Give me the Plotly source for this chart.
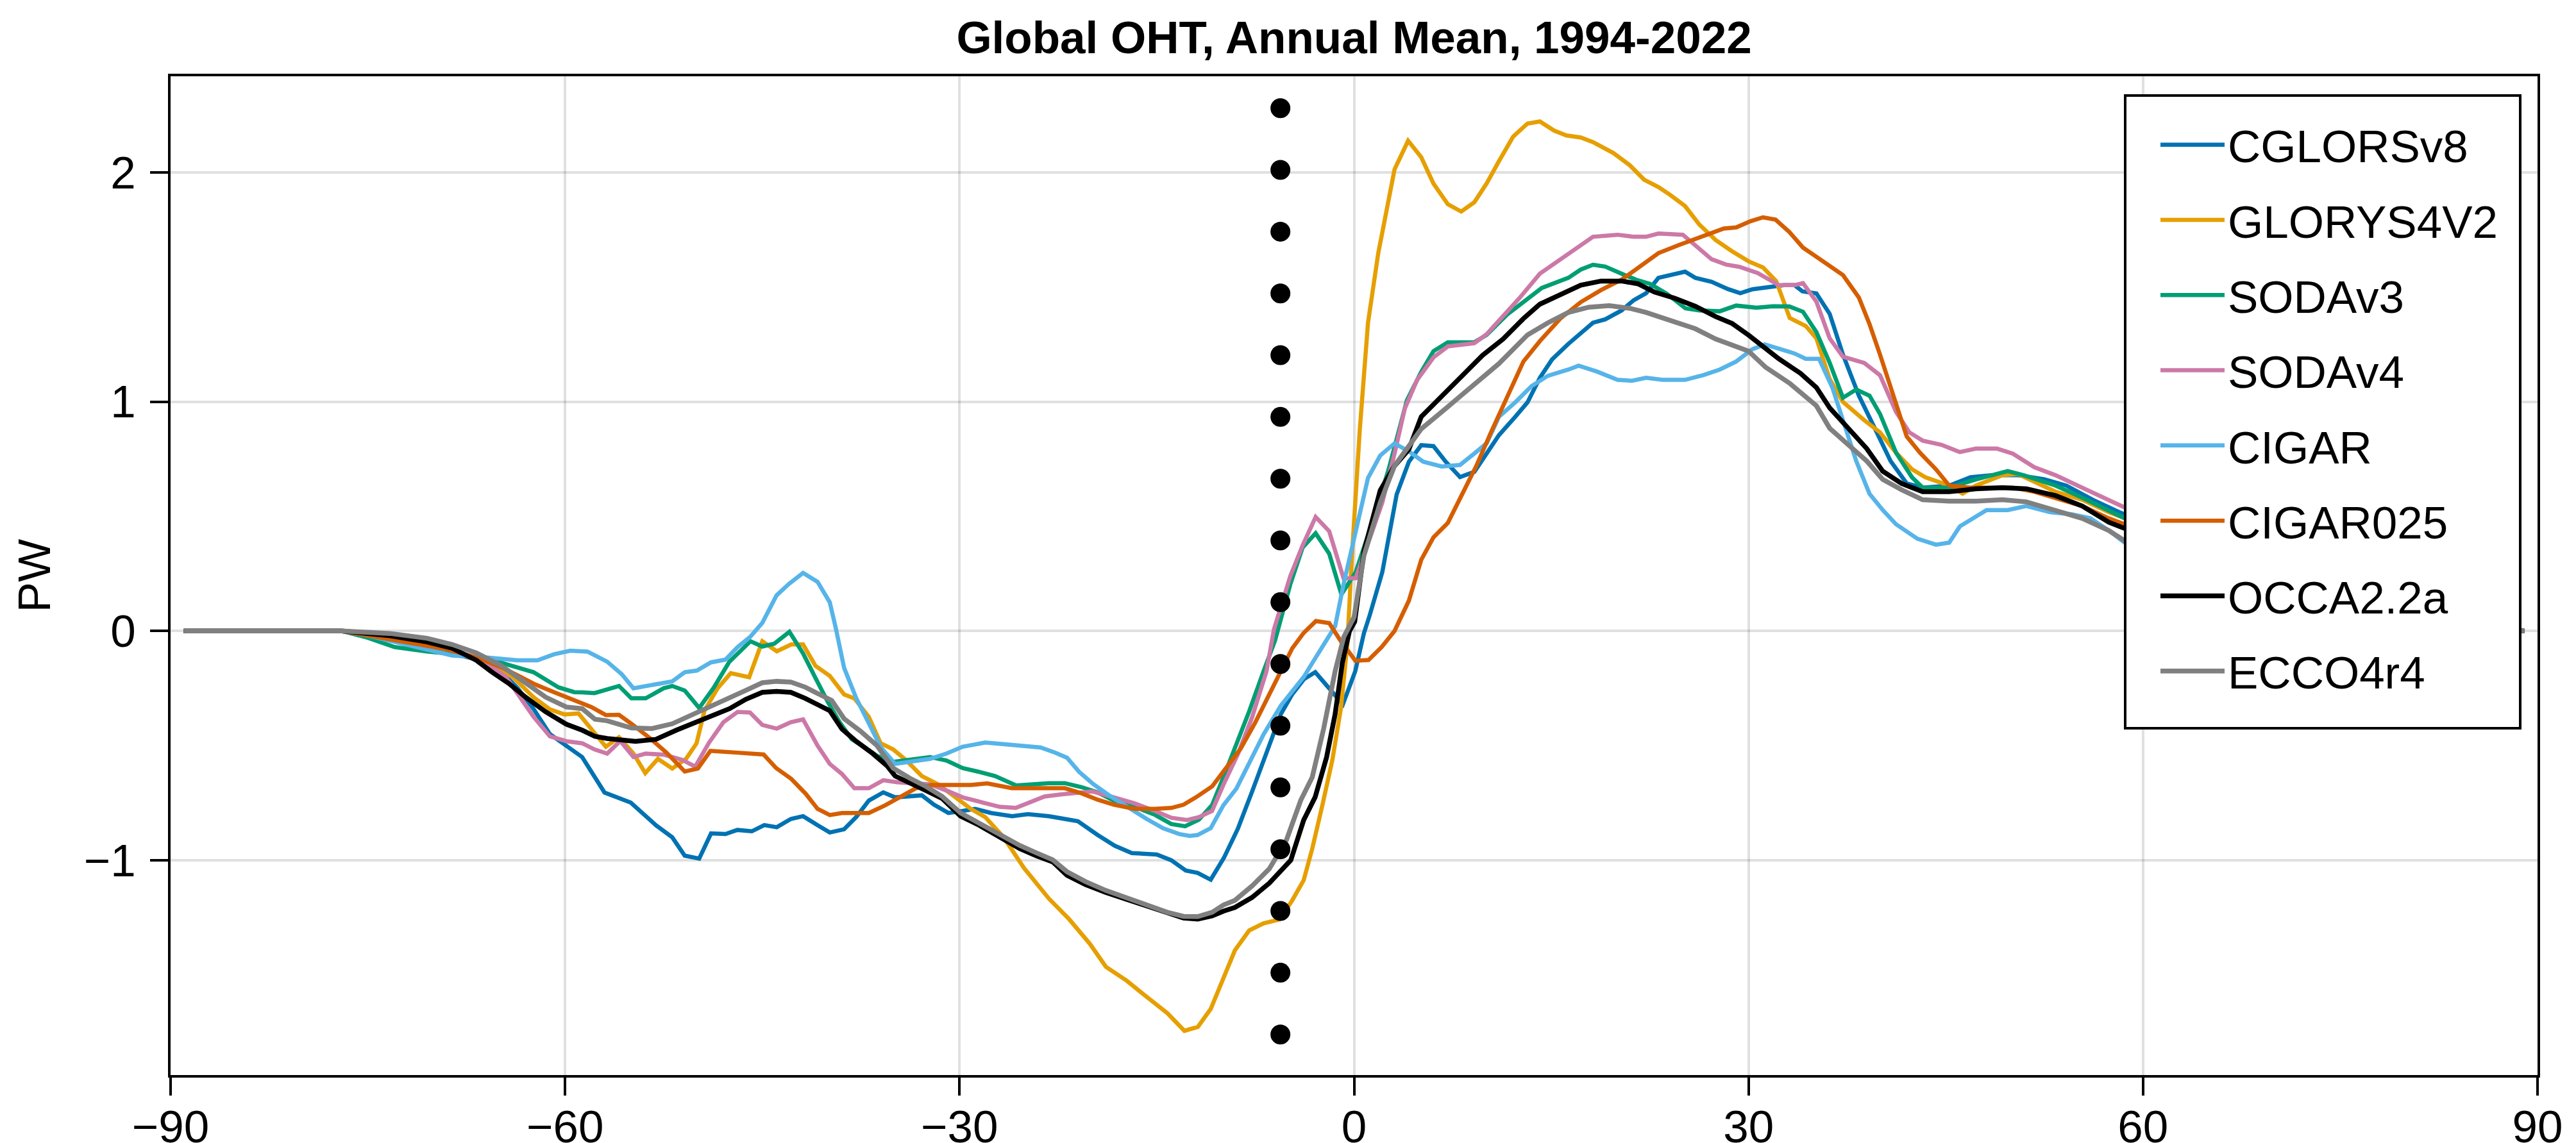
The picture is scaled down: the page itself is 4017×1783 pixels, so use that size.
import numpy as np
import plotly.graph_objects as go

# ---------------- data (latitude in degrees, OHT in PW) ----------------
names = ["CGLORSv8", "GLORYS4V2", "SODAv3", "SODAv4", "CIGAR", "CIGAR025", "OCCA2.2a", "ECCO4r4"]

cglors_lat = [-89, -85, -80, -77, -74, -71, -68.6, -65.5, -63.6, -62.4, -61.15, -59.9, -58.7, -57, -55, -53.1, -51.85, -50.9, -49.8, -48.9, -47.8, -46.9, -45.8, -44.85, -43.9, -42.83, -41.9, -40.8, -39.87, -38.78, -37.85, -36.9, -35.8, -34.9, -33.8, -32.87, -31.94, -30.85, -29.76, -28.83, -27.6, -26, -24.8, -23.2, -22.0, -21.0, -19.5, -18.2, -16.9, -15.0, -13.9, -12.8, -11.9, -10.9, -9.9, -8.84, -7.75, -6.66, -5.57, -4.7, -3.8, -2.95, -1.8, -0.85, 0.09, 0.75, 1.2, 2.15, 3.24, 4.17, 5.11, 6.04, 6.97, 8.06, 9.15, 10.08, 11.02, 12.26, 13.19, 14.13, 15.06, 16.3, 18.17, 19.1, 20.35, 21.28, 22.21, 23.15, 25.17, 25.95, 27.19, 28.43, 29.37, 30.3, 31.5, 32.7, 33.5, 34.1, 35.16, 36.17, 37.18, 38.39, 39.6, 40.8, 42.03, 43.24, 45.26, 46.88, 48.5, 50.5, 52.5, 54.16, 56.18, 58.2, 62, 66, 70, 75, 80, 85, 89]
cglors_pw = [0, 0, 0, 0, -0.03, -0.06, -0.10, -0.14, -0.25, -0.34, -0.45, -0.50, -0.55, -0.705, -0.749, -0.847, -0.90, -0.98, -0.993, -0.883, -0.886, -0.868, -0.874, -0.847, -0.856, -0.82, -0.808, -0.847, -0.879, -0.865, -0.811, -0.74, -0.704, -0.726, -0.719, -0.717, -0.758, -0.794, -0.785, -0.776, -0.794, -0.808, -0.799, -0.808, -0.82, -0.83, -0.89, -0.937, -0.969, -0.975, -1.0, -1.045, -1.055, -1.085, -0.99, -0.863, -0.70, -0.525, -0.363, -0.276, -0.21, -0.18, -0.26, -0.32, -0.176, -0.01, 0.07, 0.257, 0.595, 0.738, 0.81, 0.806, 0.738, 0.671, 0.694, 0.774, 0.854, 0.934, 0.997, 1.104, 1.184, 1.252, 1.344, 1.359, 1.398, 1.443, 1.473, 1.54, 1.567, 1.54, 1.523, 1.491, 1.473, 1.49, 1.50, 1.508, 1.508, 1.481, 1.472, 1.383, 1.205, 1.026, 0.884, 0.741, 0.643, 0.625, 0.634, 0.67, 0.679, 0.679, 0.661, 0.634, 0.572, 0.518, 0.43, 0.33, 0.23, 0.12, 0.05, 0.01, 0]

glorys_lat = [-89, -85, -80, -77, -74, -71, -68.6, -66, -64, -62.4, -61.15, -60.06, -58.98, -58.0, -56.9, -55.9, -54.8, -53.9, -52.94, -51.85, -50.8, -50.0, -49.4, -48.4, -47.4, -46.0, -45.0, -43.9, -42.8, -41.9, -40.96, -39.87, -38.78, -38.0, -36.9, -36.0, -35.05, -34.1, -32.87, -31.63, -30.38, -29.14, -28.05, -26.65, -25.1, -23.2, -21.67, -20.1, -18.87, -17.3, -15.77, -14.2, -12.9, -11.88, -10.9, -9.93, -9.06, -7.97, -6.88, -5.68, -4.7, -3.83, -3.18, -2.42, -1.65, -1.0, -0.5, -0.18, 0.44, 1.06, 1.84, 3.08, 4.11, 5.11, 6.04, 7.13, 8.15, 9.15, 10.08, 11.02, 12.1, 13.19, 14.13, 15.22, 16.15, 17.24, 18.17, 19.73, 20.97, 22.06, 23.15, 24.08, 25.17, 26.26, 27.5, 28.75, 30.0, 31.1, 32.1, 33.13, 34.35, 35.16, 36.17, 37.18, 38.8, 40.0, 41.22, 42.43, 43.45, 45.26, 46.28, 47.29, 49.31, 50.5, 51.73, 53.35, 55.37, 57.4, 62, 66, 70, 75, 80, 85, 89]
glorys_pw = [0, 0, 0, 0, -0.02, -0.05, -0.09, -0.14, -0.20, -0.289, -0.342, -0.364, -0.36, -0.43, -0.505, -0.464, -0.535, -0.62, -0.558, -0.60, -0.558, -0.49, -0.348, -0.25, -0.184, -0.202, -0.045, -0.089, -0.059, -0.059, -0.152, -0.196, -0.277, -0.294, -0.375, -0.49, -0.517, -0.562, -0.633, -0.669, -0.722, -0.776, -0.812, -0.90, -1.034, -1.168, -1.257, -1.364, -1.465, -1.525, -1.596, -1.667, -1.744, -1.727, -1.649, -1.52, -1.393, -1.306, -1.275, -1.259, -1.175, -1.087, -0.95, -0.763, -0.563, -0.338, -0.05, 0.31, 0.881, 1.344, 1.647, 2.013, 2.138, 2.066, 1.951, 1.861, 1.829, 1.87, 1.951, 2.049, 2.156, 2.213, 2.222, 2.182, 2.161, 2.152, 2.132, 2.084, 2.031, 1.968, 1.936, 1.90, 1.853, 1.772, 1.705, 1.656, 1.612, 1.585, 1.526, 1.365, 1.33, 1.276, 1.098, 0.999, 0.919, 0.866, 0.777, 0.705, 0.67, 0.634, 0.599, 0.634, 0.679, 0.684, 0.652, 0.607, 0.572, 0.518, 0.42, 0.32, 0.22, 0.12, 0.05, 0.01, 0]

sodav3_lat = [-89, -85, -80, -77, -75, -72.97, -70.5, -68.6, -65.5, -63.6, -62.4, -60.5, -59.3, -58.7, -57.76, -55.9, -54.96, -53.87, -52.5, -51.85, -50.9, -49.8, -48.7, -47.5, -45.9, -45.0, -44.1, -42.94, -41.9, -40.96, -40.0, -39.1, -38.2, -37.2, -36.3, -35.05, -33.8, -32.25, -31.0, -29.76, -28.5, -27.3, -25.7, -24.5, -23.2, -22.0, -20.74, -19.5, -18.25, -16.7, -15.14, -13.9, -12.85, -11.8, -10.8, -9.93, -9.06, -7.97, -6.88, -6.0, -4.85, -3.91, -2.92, -1.89, -0.96, 0.13, 1.37, 2.62, 4.02, 5.11, 6.04, 7.13, 9.15, 10.08, 11.64, 13.19, 14.28, 16.3, 17.24, 18.17, 19.1, 20.35, 21.44, 22.5, 23.8, 25.2, 26.26, 27.8, 29.06, 30.6, 31.86, 33.1, 34.14, 35.16, 36.17, 37.18, 38.19, 39.2, 40.0, 41.22, 42.43, 43.24, 45.26, 47.29, 49.71, 50.93, 53.35, 55.37, 57.4, 58.6, 62, 66, 70, 75, 80, 85, 89]
sodav3_pw = [0, 0, 0, 0, -0.03, -0.07, -0.09, -0.10, -0.128, -0.16, -0.18, -0.246, -0.267, -0.268, -0.271, -0.24, -0.294, -0.294, -0.25, -0.24, -0.26, -0.336, -0.248, -0.134, -0.045, -0.068, -0.056, -0.004, -0.098, -0.205, -0.312, -0.40, -0.472, -0.508, -0.544, -0.571, -0.562, -0.55, -0.565, -0.598, -0.615, -0.633, -0.674, -0.669, -0.664, -0.664, -0.681, -0.704, -0.74, -0.767, -0.802, -0.842, -0.852, -0.823, -0.76, -0.638, -0.513, -0.35, -0.176, -0.04, 0.203, 0.364, 0.426, 0.337, 0.159, 0.257, 0.471, 0.703, 1.006, 1.13, 1.22, 1.259, 1.259, 1.291, 1.38, 1.451, 1.496, 1.54, 1.576, 1.597, 1.589, 1.558, 1.532, 1.514, 1.47, 1.407, 1.398, 1.394, 1.419, 1.41, 1.416, 1.415, 1.392, 1.303, 1.169, 1.017, 1.053, 1.026, 0.946, 0.777, 0.67, 0.625, 0.625, 0.661, 0.697, 0.679, 0.634, 0.581, 0.527, 0.491, 0.42, 0.32, 0.22, 0.12, 0.05, 0.01, 0]

sodav4_lat = [-89, -85, -80, -77, -75, -72, -69, -66.5, -64.5, -63.3, -62.4, -61.15, -59.9, -58.7, -57.76, -56.8, -55.8, -54.8, -53.87, -52.47, -51.1, -50.1, -49.05, -47.96, -46.87, -45.94, -45.0, -43.9, -42.83, -41.9, -40.8, -39.87, -38.94, -38.0, -36.9, -35.8, -34.74, -33.5, -32.25, -31.0, -29.76, -28.2, -26.96, -25.72, -24.78, -23.54, -22.3, -21.05, -19.9, -18.25, -16.7, -15.14, -13.9, -12.7, -11.8, -10.8, -9.93, -8.84, -7.75, -6.66, -6.09, -4.85, -3.91, -2.92, -1.89, -0.8, 0.13, 1.06, 2.15, 3.08, 3.86, 4.8, 6.04, 7.13, 9.15, 10.08, 11.33, 12.57, 14.13, 16.0, 17.24, 18.17, 20.04, 21.28, 22.21, 23.15, 25.0, 25.95, 27.19, 28.28, 29.3, 30.7, 32.3, 33.5, 34.14, 35.16, 36.17, 37.18, 38.8, 40.0, 41.22, 42.23, 43.24, 44.66, 46.07, 47.29, 48.9, 50.1, 51.73, 53.35, 55.37, 57.4, 58.6, 62, 66, 70, 75, 80, 85, 89]
sodav4_pw = [0, 0, 0, 0, -0.02, -0.05, -0.08, -0.12, -0.20, -0.30, -0.374, -0.46, -0.481, -0.49, -0.517, -0.535, -0.48, -0.55, -0.535, -0.54, -0.562, -0.592, -0.487, -0.398, -0.353, -0.356, -0.41, -0.426, -0.398, -0.386, -0.50, -0.58, -0.624, -0.686, -0.686, -0.651, -0.66, -0.665, -0.669, -0.696, -0.726, -0.749, -0.767, -0.772, -0.749, -0.722, -0.713, -0.704, -0.70, -0.726, -0.752, -0.785, -0.815, -0.825, -0.812, -0.785, -0.67, -0.538, -0.376, -0.176, 0.007, 0.239, 0.373, 0.497, 0.435, 0.23, 0.23, 0.382, 0.56, 0.774, 0.97, 1.095, 1.193, 1.241, 1.255, 1.294, 1.371, 1.451, 1.558, 1.63, 1.683, 1.719, 1.728, 1.719, 1.719, 1.733, 1.728, 1.683, 1.621, 1.598, 1.588, 1.561, 1.508, 1.508, 1.517, 1.436, 1.276, 1.196, 1.169, 1.115, 0.955, 0.866, 0.83, 0.812, 0.78, 0.795, 0.795, 0.773, 0.714, 0.679, 0.625, 0.572, 0.536, 0.45, 0.34, 0.24, 0.13, 0.05, 0.01, 0]

cigar_lat = [-89, -85, -80, -77, -75, -72, -68.6, -65.5, -63.64, -62.1, -60.84, -59.6, -58.3, -56.8, -55.7, -54.8, -53.87, -52.94, -51.85, -50.9, -49.98, -48.9, -47.8, -46.87, -45.94, -45.0, -43.92, -42.98, -41.9, -40.8, -39.87, -39.4, -38.78, -37.85, -36.9, -35.98, -34.9, -33.8, -32.25, -31.0, -29.76, -28.05, -26.65, -25.1, -23.85, -22.77, -21.83, -20.9, -19.81, -18.56, -17.3, -15.77, -14.52, -13.28, -12.5, -11.9, -10.9, -9.93, -8.95, -7.97, -6.88, -5.57, -4.7, -3.83, -2.96, -2.0, -1.44, -0.8, 0.13, 1.06, 1.99, 3.08, 4.17, 5.26, 6.66, 8.06, 9.15, 10.08, 11.02, 12.26, 13.5, 14.75, 16.3, 17.08, 18.48, 20.04, 21.13, 22.21, 23.46, 25.17, 26.57, 27.81, 29.06, 30.3, 31.23, 32.48, 33.5, 34.35, 35.36, 36.37, 37.18, 38.19, 39.2, 40.21, 41.22, 42.84, 44.25, 45.26, 46.07, 48.1, 49.71, 51.13, 52.95, 54.57, 55.98, 57.4, 58.6, 62, 66, 70, 75, 80, 85, 89]
cigar_pw = [0, 0, 0, 0, -0.02, -0.06, -0.107, -0.118, -0.128, -0.128, -0.102, -0.086, -0.09, -0.134, -0.188, -0.25, -0.241, -0.232, -0.22, -0.18, -0.173, -0.137, -0.125, -0.07, -0.027, 0.035, 0.155, 0.205, 0.253, 0.214, 0.125, 0.009, -0.161, -0.294, -0.401, -0.508, -0.58, -0.571, -0.558, -0.535, -0.505, -0.487, -0.494, -0.50, -0.508, -0.53, -0.553, -0.615, -0.669, -0.72, -0.767, -0.82, -0.861, -0.886, -0.894, -0.89, -0.86, -0.76, -0.688, -0.575, -0.451, -0.326, -0.264, -0.201, -0.12, -0.03, 0.02, 0.203, 0.435, 0.667, 0.765, 0.818, 0.783, 0.738, 0.717, 0.724, 0.774, 0.818, 0.934, 0.997, 1.068, 1.113, 1.14, 1.157, 1.131, 1.095, 1.091, 1.104, 1.095, 1.095, 1.116, 1.14, 1.175, 1.229, 1.25, 1.229, 1.21, 1.187, 1.187, 1.062, 0.919, 0.741, 0.598, 0.527, 0.465, 0.402, 0.376, 0.385, 0.456, 0.527, 0.527, 0.545, 0.518, 0.509, 0.492, 0.438, 0.385, 0.33, 0.26, 0.18, 0.10, 0.04, 0.01, 0]

cigar025_lat = [-89, -85, -80, -77, -75, -72, -69, -66.5, -64.8, -63.64, -62.4, -60.84, -59.29, -58.0, -56.9, -55.9, -54.95, -53.5, -52.3, -50.9, -49.9, -48.95, -46.87, -44.9, -43.95, -42.8, -41.7, -40.8, -39.87, -38.94, -37.85, -36.9, -35.67, -34.43, -33.34, -32.1, -30.7, -29.14, -27.9, -26.03, -24.16, -22.0, -20.74, -19.5, -18.25, -16.7, -15.14, -13.9, -12.97, -12.03, -10.79, -9.93, -8.62, -7.53, -6.44, -5.4, -4.7, -3.85, -2.9, -1.89, -1.0, 0.1, 1.1, 2.1, 3.08, 4.17, 5.11, 6.04, 7.13, 8.22, 9.3, 10.39, 11.64, 12.88, 14.13, 15.68, 17.24, 18.79, 20.35, 21.9, 23.15, 24.7, 26.26, 28.12, 29.06, 30.15, 31.1, 32.05, 33.1, 34.14, 35.36, 37.18, 38.39, 39.2, 40.0, 41.22, 42.03, 43.04, 44.25, 45.26, 46.88, 48.5, 50.1, 51.73, 53.35, 55.37, 57.4, 58.6, 62, 66, 70, 75, 80, 85, 89]
cigar025_pw = [0, 0, 0, 0, -0.02, -0.05, -0.08, -0.12, -0.16, -0.193, -0.23, -0.267, -0.30, -0.332, -0.367, -0.366, -0.405, -0.47, -0.53, -0.613, -0.60, -0.523, -0.531, -0.539, -0.598, -0.645, -0.71, -0.776, -0.803, -0.794, -0.794, -0.794, -0.761, -0.722, -0.687, -0.672, -0.674, -0.672, -0.665, -0.686, -0.686, -0.686, -0.708, -0.736, -0.758, -0.776, -0.776, -0.772, -0.758, -0.726, -0.678, -0.614, -0.513, -0.401, -0.276, -0.16, -0.076, -0.01, 0.043, 0.034, -0.045, -0.13, -0.127, -0.07, 0.0, 0.132, 0.31, 0.408, 0.471, 0.596, 0.72, 0.863, 1.023, 1.175, 1.264, 1.362, 1.434, 1.487, 1.532, 1.594, 1.648, 1.683, 1.715, 1.755, 1.76, 1.787, 1.804, 1.794, 1.74, 1.672, 1.624, 1.552, 1.454, 1.338, 1.205, 0.991, 0.848, 0.777, 0.705, 0.634, 0.625, 0.625, 0.625, 0.607, 0.581, 0.545, 0.491, 0.465, 0.40, 0.31, 0.22, 0.12, 0.05, 0.01, 0]

occa_lat = [-89, -85, -80, -77, -73.3, -70.5, -68.6, -66.75, -65.5, -64.26, -63.0, -61.47, -59.9, -58.7, -57.73, -56.8, -54.65, -53.1, -51.54, -50.3, -48.7, -47.49, -46.25, -45.0, -43.92, -42.83, -41.74, -40.8, -39.87, -38.94, -37.85, -36.6, -35.5, -34.9, -33.8, -32.56, -31.32, -29.92, -28.52, -26.96, -25.41, -24.16, -22.92, -21.83, -20.43, -18.87, -17.3, -15.77, -14.2, -12.97, -11.88, -10.79, -9.92, -9.06, -7.75, -6.44, -4.81, -3.83, -2.96, -2.09, -1.44, -0.89, -0.35, 0.05, 0.75, 1.99, 3.08, 4.17, 5.11, 6.66, 8.22, 9.77, 11.33, 12.88, 14.13, 15.68, 17.24, 18.79, 20.35, 21.59, 22.84, 24.39, 25.95, 27.5, 28.75, 30.0, 30.7, 32.3, 33.94, 35.16, 36.17, 37.58, 38.99, 40.2, 41.63, 43.24, 45.26, 47.29, 49.31, 51.13, 53.35, 55.37, 57.4, 58.6, 62, 66, 70, 75, 80, 85, 89]
occa_pw = [0, 0, 0, 0, -0.021, -0.048, -0.075, -0.128, -0.182, -0.23, -0.289, -0.353, -0.407, -0.433, -0.46, -0.469, -0.482, -0.473, -0.433, -0.405, -0.366, -0.339, -0.298, -0.268, -0.264, -0.268, -0.294, -0.321, -0.348, -0.428, -0.482, -0.535, -0.589, -0.633, -0.66, -0.696, -0.731, -0.808, -0.847, -0.90, -0.95, -0.981, -1.007, -1.066, -1.106, -1.141, -1.171, -1.204, -1.234, -1.252, -1.257, -1.243, -1.222, -1.206, -1.162, -1.10, -1.0, -0.825, -0.725, -0.551, -0.363, -0.139, -0.001, 0.04, 0.346, 0.613, 0.72, 0.792, 0.934, 1.023, 1.116, 1.202, 1.273, 1.362, 1.425, 1.469, 1.508, 1.526, 1.526, 1.514, 1.478, 1.451, 1.416, 1.371, 1.341, 1.29, 1.258, 1.187, 1.124, 1.062, 0.973, 0.884, 0.795, 0.697, 0.643, 0.607, 0.607, 0.62, 0.625, 0.62, 0.59, 0.545, 0.474, 0.447, 0.38, 0.29, 0.20, 0.11, 0.04, 0.01, 0]

ecco_lat = [-89, -85, -80, -77, -73.3, -70.5, -68.6, -66.75, -64.88, -63.0, -61.47, -59.9, -58.7, -57.73, -56.8, -54.96, -53.4, -51.85, -50.3, -48.7, -47.49, -46.25, -45.0, -43.92, -42.83, -41.74, -40.65, -39.72, -38.78, -37.54, -36.3, -35.05, -33.8, -32.56, -31.32, -29.92, -28.52, -26.96, -25.41, -24.16, -22.92, -21.83, -20.43, -18.87, -17.3, -15.77, -14.2, -12.97, -11.88, -10.79, -9.92, -9.06, -7.75, -6.44, -5.14, -4.05, -3.18, -2.31, -1.44, -0.78, 0.0, 0.75, 1.99, 3.08, 4.17, 5.11, 6.97, 8.84, 11.02, 13.19, 14.75, 16.3, 17.86, 19.41, 20.97, 22.21, 23.3, 24.39, 25.95, 27.5, 28.75, 30.0, 31.3, 32.48, 33.13, 35.16, 36.17, 37.58, 38.99, 40.2, 41.63, 43.24, 45.26, 47.29, 49.31, 51.13, 53.35, 55.37, 57.4, 58.6, 62, 66, 70, 75, 80, 85, 89]
ecco_pw = [0, 0, 0, 0, -0.011, -0.032, -0.059, -0.096, -0.15, -0.225, -0.289, -0.332, -0.339, -0.385, -0.392, -0.423, -0.426, -0.405, -0.366, -0.326, -0.294, -0.259, -0.226, -0.22, -0.223, -0.245, -0.277, -0.303, -0.383, -0.437, -0.499, -0.598, -0.642, -0.678, -0.722, -0.794, -0.838, -0.886, -0.936, -0.968, -0.998, -1.05, -1.093, -1.132, -1.164, -1.195, -1.227, -1.245, -1.246, -1.227, -1.195, -1.175, -1.112, -1.037, -0.912, -0.738, -0.638, -0.426, -0.176, -0.026, 0.06, 0.328, 0.56, 0.72, 0.81, 0.881, 0.97, 1.059, 1.166, 1.291, 1.344, 1.389, 1.412, 1.419, 1.407, 1.389, 1.368, 1.348, 1.318, 1.273, 1.246, 1.22, 1.15, 1.104, 1.08, 0.982, 0.884, 0.812, 0.741, 0.661, 0.616, 0.572, 0.566, 0.566, 0.572, 0.563, 0.527, 0.491, 0.438, 0.393, 0.33, 0.25, 0.17, 0.09, 0.03, 0.01, 0]

# reference latitude marked by the dotted vertical line, and its extent (PW)
ref_lat = -5.6
ref_extent = (-1.76, 2.28)
ref_dot_count = 16

x_ticks = [-90, -60, -30, 0, 30, 60, 90]
y_ticks = [-1, 0, 1, 2]

# ---------------- figure ----------------
W, H = 4017, 1783
FONT = "Liberation Sans, Arial, Helvetica, sans-serif"
FS = 71

series = [
    (cglors_lat, cglors_pw, "#0072B2", 6.5),
    (glorys_lat, glorys_pw, "#E69F00", 6.5),
    (sodav3_lat, sodav3_pw, "#009E73", 6.5),
    (sodav4_lat, sodav4_pw, "#CC79A7", 6.5),
    (cigar_lat, cigar_pw, "#56B4E9", 6.5),
    (cigar025_lat, cigar025_pw, "#D55E00", 6.5),
    (occa_lat, occa_pw, "#000000", 7.5),
    (ecco_lat, ecco_pw, "#808080", 7.5),
]

fig = go.Figure()
for name, (lx, ly, col, lw) in zip(names, series):
    fig.add_trace(go.Scatter(
        x=lx, y=ly, mode="lines", name=name, legendgroup=name,
        line=dict(color=col, width=lw),
    ))

ref_y = np.linspace(ref_extent[0], ref_extent[1], ref_dot_count)
fig.add_trace(go.Scatter(
    x=[ref_lat] * len(ref_y), y=ref_y, mode="markers", showlegend=False,
    marker=dict(color="black", size=31, line=dict(width=0)),
    hoverinfo="skip",
))

L, R, T, B = 258, 68, 111, 114
pw_w = W - L - R
ph_h = H - T - B


def px_x(px):
    return (px - L) / pw_w


def px_y(py):
    return 1 - (py - T) / ph_h


axis_common = dict(
    showline=True, linecolor="black", linewidth=4, mirror=True,
    ticks="outside", ticklen=28, tickwidth=3.5, tickcolor="black",
    showgrid=True, gridcolor="rgba(0,0,0,0.12)", gridwidth=3.5,
    zeroline=False,
    tickfont=dict(family=FONT, size=FS, color="black"),
)

fig.update_layout(
    width=W, height=H, autosize=False,
    paper_bgcolor="white", plot_bgcolor="white",
    margin=dict(l=L, r=R, t=T, b=B, autoexpand=False),
    font=dict(family=FONT, size=FS, color="black"),
    title=dict(
        text="<b>Global OHT, Annual Mean, 1994-2022</b>",
        x=0.5, xref="paper", xanchor="center",
        y=1 - 50 / H, yref="container", yanchor="middle",
        font=dict(family=FONT, size=FS, color="black"),
    ),
    xaxis=dict(range=[-90, 90], tickvals=x_ticks, ticklabelstandoff=-12, **axis_common),
    yaxis=dict(range=[-1.937, 2.419], tickvals=y_ticks, ticklabelstandoff=8,
               title=dict(text="PW", font=dict(family=FONT, size=FS, color="black"), standoff=30),
               **axis_common),
    # legend frame (white box with black border) drawn above the data
    shapes=[dict(
        type="rect", xref="paper", yref="paper", layer="above",
        x0=px_x(3306), x1=px_x(3922), y0=px_y(1128), y1=px_y(141),
        fillcolor="white", line=dict(color="black", width=4),
    )],
    legend=dict(
        x=px_x(3356), y=px_y(165), xanchor="left", yanchor="top",
        xref="paper", yref="paper",
        bgcolor="rgba(0,0,0,0)", borderwidth=0,
        font=dict(family=FONT, size=FS, color="black"),
        itemwidth=100, tracegroupgap=22,
    ),
    showlegend=True,
)

fig.write_html("out.html")
